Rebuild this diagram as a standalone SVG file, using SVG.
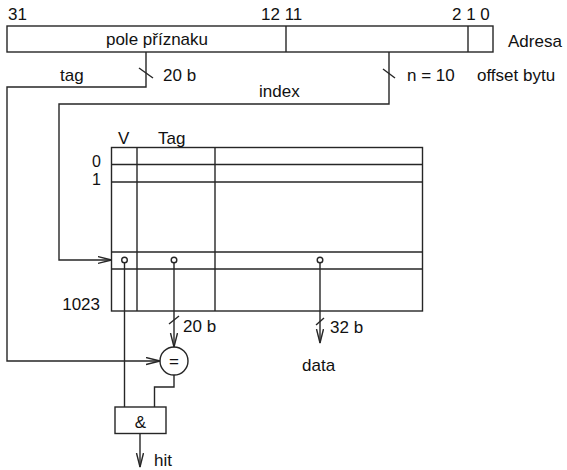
<svg xmlns="http://www.w3.org/2000/svg" width="567" height="470" viewBox="0 0 567 470">
<style>
.ln{fill:none;stroke:#262626;stroke-width:1.4}
.t{font-family:"Liberation Sans",Arial,sans-serif;font-size:17px;fill:#111}
.s{font-size:16px}
.dot{fill:#fff;stroke:#262626;stroke-width:1.4}
</style>
<defs>
<marker id="ar" markerUnits="userSpaceOnUse" markerWidth="16" markerHeight="10" refX="14" refY="4" orient="auto">
<path d="M0,0.5 L14,4 L0,7.5" fill="none" stroke="#262626" stroke-width="1.4"/>
</marker>
</defs>
<rect width="567" height="470" fill="#fff"/>

<g id="address">
<rect class="ln" x="7" y="26" width="486" height="26"/>
<line class="ln" x1="286" y1="26" x2="286" y2="52"/>
<line class="ln" x1="468" y1="26" x2="468" y2="52"/>
<text class="t" x="8" y="20">31</text>
<text class="t" x="261" y="20">12 11</text>
<text class="t" x="452" y="20">2 1 0</text>
<text class="t" x="508" y="47">Adresa</text>
<text class="t" x="157" y="45" text-anchor="middle">pole příznaku</text>
<text class="t" x="60" y="81">tag</text>
<text class="t" x="163" y="81">20 b</text>
<text class="t" x="407" y="81">n = 10</text>
<text class="t" x="477" y="81">offset bytu</text>
<text class="t" x="259" y="97">index</text>
</g>

<g id="cache">
<rect class="ln" x="111.5" y="147.5" width="311" height="163.5"/>
<line class="ln" x1="137" y1="147.5" x2="137" y2="311"/>
<line class="ln" x1="215" y1="147.5" x2="215" y2="311"/>
<line class="ln" x1="111.5" y1="164.5" x2="422.5" y2="164.5"/>
<line class="ln" x1="111.5" y1="182" x2="422.5" y2="182"/>
<line class="ln" x1="111.5" y1="252" x2="422.5" y2="252"/>
<line class="ln" x1="111.5" y1="269" x2="422.5" y2="269"/>
<text class="t" x="118" y="144">V</text>
<text class="t" x="158" y="144">Tag</text>
<text class="t s" x="101" y="166.5" text-anchor="end">0</text>
<text class="t s" x="101" y="185" text-anchor="end">1</text>
<text class="t" x="100" y="310" text-anchor="end">1023</text>
</g>

<g id="comparator">
<circle class="ln" cx="174" cy="361" r="14"/>
<text class="t" x="174" y="367" text-anchor="middle">=</text>
</g>

<g id="and">
<rect class="ln" x="115" y="407" width="51" height="26.5"/>
<text class="t" x="140.5" y="428" text-anchor="middle">&amp;</text>
</g>

<g id="connectors">
<polyline class="ln" points="146,52 146,87 7,87 7,361 160,361" marker-end="url(#ar)"/>
<line class="ln" x1="139" y1="68" x2="153" y2="78"/>
<polyline class="ln" points="389,52 389,104 59,104 59,260 111.5,260" marker-end="url(#ar)"/>
<line class="ln" x1="383" y1="69" x2="395" y2="78"/>
<line class="ln" x1="174" y1="260" x2="174" y2="347" marker-end="url(#ar)"/>
<line class="ln" x1="169" y1="324" x2="179" y2="316"/>
<text class="t" x="183" y="332">20 b</text>
<line class="ln" x1="320" y1="260" x2="320" y2="343" marker-end="url(#ar)"/>
<line class="ln" x1="316" y1="325" x2="324" y2="318"/>
<text class="t" x="330" y="333">32 b</text>
<text class="t" x="302" y="371">data</text>
<line class="ln" x1="124.5" y1="260" x2="124.5" y2="407"/>
<polyline class="ln" points="174,375 174,387 154.5,387 154.5,407"/>
<line class="ln" x1="140" y1="433.5" x2="140" y2="467" marker-end="url(#ar)"/>
<text class="t" x="154" y="466">hit</text>
<circle class="dot" cx="124.5" cy="260" r="2.8"/>
<circle class="dot" cx="174" cy="260" r="2.8"/>
<circle class="dot" cx="320" cy="260" r="2.8"/>
</g>
</svg>
